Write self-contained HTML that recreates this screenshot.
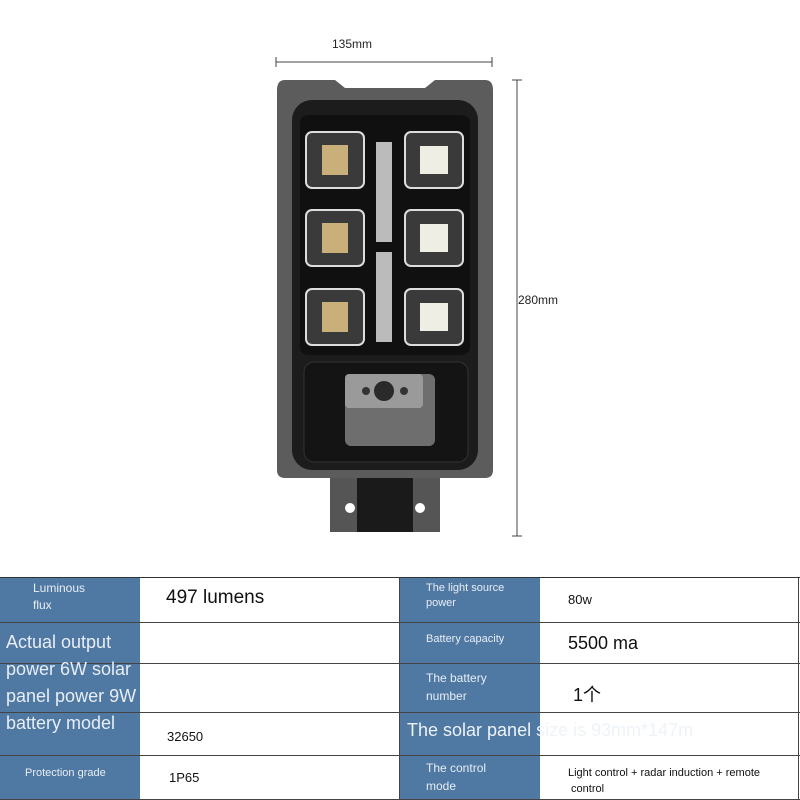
<!DOCTYPE html>
<html><head><style>
body{margin:0;width:800px;height:800px;background:#fff;position:relative;overflow:hidden;font-family:"Liberation Sans","Noto Sans CJK SC",sans-serif}
.a{position:absolute}
.b{background:#4f78a3;color:#e8eef5}
.t{color:#111}
</style></head><body>
<svg class="a" style="left:0;top:0" width="800" height="560">
<line x1="276" y1="62" x2="492" y2="62" stroke="#444"/>
<line x1="276" y1="57" x2="276" y2="67" stroke="#444"/><line x1="492" y1="57" x2="492" y2="67" stroke="#444"/>
<text x="332" y="48" font-size="12" font-family="Liberation Sans" fill="#222">135mm</text>
<line x1="517" y1="80" x2="517" y2="536" stroke="#444"/>
<line x1="512" y1="80" x2="522" y2="80" stroke="#444"/><line x1="512" y1="536" x2="522" y2="536" stroke="#444"/>
<text x="518" y="304" font-size="12" font-family="Liberation Sans" fill="#222">280mm</text>
<rect x="330" y="470" width="110" height="62" fill="#555"/>
<rect x="357" y="478" width="56" height="54" fill="#1a1a1a"/>
<circle cx="350" cy="508" r="5" fill="#fff"/><circle cx="420" cy="508" r="5" fill="#fff"/>
<path d="M285 80 L335 80 L345 88 L425 88 L435 80 L485 80 Q493 80 493 90 L493 470 Q493 478 485 478 L285 478 Q277 478 277 470 L277 90 Q277 80 285 80Z" fill="#5c5c5c"/>
<rect x="292" y="100" width="186" height="370" rx="20" fill="#1c1c1c"/>
<rect x="300" y="115" width="170" height="240" rx="8" fill="#101010"/>
<g fill="#3a3a3a" stroke="#ddd" stroke-width="2">
<rect x="306" y="132" width="58" height="56" rx="6"/><rect x="405" y="132" width="58" height="56" rx="6"/>
<rect x="306" y="210" width="58" height="56" rx="6"/><rect x="405" y="210" width="58" height="56" rx="6"/>
<rect x="306" y="289" width="58" height="56" rx="6"/><rect x="405" y="289" width="58" height="56" rx="6"/>
</g>
<g fill="#c9b07a"><rect x="322" y="145" width="26" height="30"/><rect x="322" y="223" width="26" height="30"/><rect x="322" y="302" width="26" height="30"/></g>
<g fill="#eeeee4"><rect x="420" y="146" width="28" height="28"/><rect x="420" y="224" width="28" height="28"/><rect x="420" y="303" width="28" height="28"/></g>
<rect x="376" y="142" width="16" height="100" fill="#bbb"/><rect x="376" y="252" width="16" height="90" fill="#bbb"/>
<rect x="304" y="362" width="164" height="100" rx="10" fill="#141414" stroke="#333"/>
<rect x="345" y="374" width="90" height="72" rx="6" fill="#6e6e6e"/>
<rect x="345" y="374" width="78" height="34" rx="4" fill="#9a9a9a"/>
<circle cx="384" cy="391" r="10" fill="#2a2a2a"/><circle cx="366" cy="391" r="4" fill="#333"/><circle cx="404" cy="391" r="4" fill="#333"/>
</svg>
<div class="a" style="left:0;top:577px;width:800px;height:1px;background:#333"></div>
<div class="a b" style="left:0;top:578px;width:140px;height:222px"></div>
<div class="a b" style="left:400px;top:578px;width:140px;height:222px"></div>
<div class="a" style="left:0;top:622px;width:800px;height:1px;background:#444"></div>
<div class="a" style="left:0;top:663px;width:800px;height:1px;background:#444"></div>
<div class="a" style="left:0;top:712px;width:800px;height:1px;background:#444"></div>
<div class="a" style="left:0;top:755px;width:800px;height:1px;background:#444"></div>
<div class="a" style="left:0;top:799px;width:800px;height:1px;background:#444"></div>
<div class="a" style="left:399px;top:578px;width:1px;height:222px;background:#444"></div>
<div class="a" style="left:798px;top:578px;width:1px;height:222px;background:#444"></div>
<div class="a" style="left:33px;top:580px;font-size:12px;line-height:17px;color:#e8eef5">Luminous<br>flux</div>
<div class="a t" style="left:166px;top:587px;font-size:19px">497 lumens</div>
<div class="a" style="left:6px;top:629px;font-size:18px;line-height:27px;color:#e8eef5">Actual output<br>power 6W solar<br>panel power 9W<br>battery model</div>
<div class="a t" style="left:167px;top:729px;font-size:13px">32650</div>
<div class="a" style="left:25px;top:767px;font-size:11px;color:#e8eef5">Protection grade</div>
<div class="a t" style="left:169px;top:770px;font-size:13px">1P65</div>
<div class="a" style="left:426px;top:581px;font-size:11px;line-height:15px;color:#e8eef5">The light source<br>power</div>
<div class="a t" style="left:568px;top:592px;font-size:13px">80w</div>
<div class="a" style="left:426px;top:633px;font-size:11px;color:#e8eef5">Battery capacity</div>
<div class="a t" style="left:568px;top:633px;font-size:18px">5500 ma</div>
<div class="a" style="left:426px;top:669px;font-size:12px;line-height:18px;color:#e8eef5">The battery<br>number</div>
<div class="a t" style="left:573px;top:681px;font-size:18px">1个</div>
<div class="a" style="left:407px;top:720px;font-size:18px;color:#eef3f8;white-space:nowrap">The solar panel <span style="color:#eef3f8">size is 93mm*147m</span></div>
<div class="a" style="left:426px;top:759px;font-size:12px;line-height:18px;color:#e8eef5">The control<br>mode</div>
<div class="a t" style="left:568px;top:765px;font-size:11px;line-height:16px">Light control + radar induction + remote<br>&nbsp;control</div>
</body></html>
